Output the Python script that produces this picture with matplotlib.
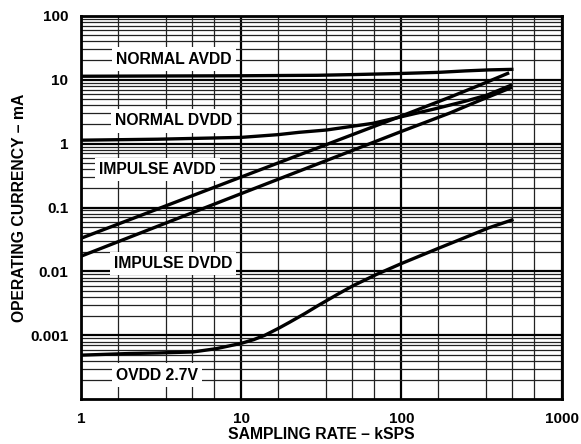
import numpy as np
import matplotlib.pyplot as plt
from matplotlib.ticker import FixedLocator, NullFormatter

plt.rcParams['font.family'] = ['Liberation Sans', 'DejaVu Sans']
plt.rcParams['font.weight'] = 'bold'

# sampling rate (kSPS) and current (mA)
normal_avdd_x = [1, 3, 10, 30, 50, 100, 170, 250, 350, 500]
normal_avdd_y = [11.3, 11.4, 11.5, 11.7, 12.0, 12.5, 13.0, 13.7, 14.2, 14.5]

normal_dvdd_x = [1, 3, 10, 17, 23, 34, 66, 100, 166, 250, 340, 490]
normal_dvdd_y = [1.13, 1.17, 1.25, 1.38, 1.5, 1.63, 2.07, 2.63, 3.55, 4.6, 5.7, 8.3]

impulse_avdd_x = [1, 10, 73, 100, 200, 300, 470]
impulse_avdd_y = [0.033, 0.30, 2.0, 2.7, 5.3, 8.0, 12.8]

impulse_dvdd_x = [1, 10, 50, 100, 200, 300, 490]
impulse_dvdd_y = [0.0173, 0.165, 0.79, 1.55, 3.0, 4.6, 7.6]

ovdd_x = [1, 2, 3, 5, 7, 10, 12, 14, 17, 20, 25, 30, 40, 50, 70, 100, 170, 250, 350, 500]
ovdd_y = [0.00049, 0.00052, 0.00053, 0.00055, 0.00062, 0.00075, 0.00086, 0.00100,
          0.00128, 0.0016, 0.0022, 0.0029, 0.0044, 0.0060, 0.0090, 0.0133,
          0.023, 0.034, 0.048, 0.065]

labels = ["NORMAL AVDD", "NORMAL DVDD", "IMPULSE AVDD", "IMPULSE DVDD", "OVDD 2.7V"]
label_x = [3.8, 3.8, 3.0, 3.75, 2.97]
label_y = [21, 2.27, 0.395, 0.0133, 0.000238]

x_ticks = [1, 10, 100, 1000]
y_ticks = [100, 10, 1, 0.1, 0.01, 0.001]
y_tick_labels = ["100", "10", "1", "0.1", "0.01", "0.001"]

fig = plt.figure(figsize=(5.81, 4.44), dpi=100)
ax = fig.add_axes([0.1394, 0.1007, 0.8274, 0.8639])

for xs, ys in [(normal_avdd_x, normal_avdd_y), (normal_dvdd_x, normal_dvdd_y),
               (impulse_avdd_x, impulse_avdd_y), (impulse_dvdd_x, impulse_dvdd_y),
               (ovdd_x, ovdd_y)]:
    ax.plot(xs, ys, color='black', lw=2.4, zorder=3, solid_capstyle='butt')

ax.set_xscale('log')
ax.set_yscale('log')
ax.set_xlim(1, 1000)
ax.set_ylim(0.0001, 100)

ax.set_xticks(x_ticks)
ax.set_xticklabels([str(t) for t in x_ticks])
ax.set_yticks(y_ticks)
ax.set_yticklabels(y_tick_labels)

# the original grid has four odd minor lines per x decade
frac = np.array([1.70, 3.39, 4.90, 6.76])
ax.xaxis.set_minor_locator(FixedLocator(np.concatenate([frac * d for d in [1, 10, 100]])))
ax.yaxis.set_minor_locator(FixedLocator([s * 10.0 ** e for e in range(-4, 2) for s in range(2, 10)]))
ax.xaxis.set_minor_formatter(NullFormatter())
ax.yaxis.set_minor_formatter(NullFormatter())

ax.grid(which='major', color='black', lw=1.6, zorder=1)
ax.grid(which='minor', color='#222222', lw=0.9, zorder=1)
ax.tick_params(which='both', length=0, labelsize=11, pad=9)
for s in ax.spines.values():
    s.set_linewidth(2)

for t, lx, ly in zip(labels, label_x, label_y):
    ax.text(lx, ly, t, ha='center', va='center', fontsize=11.3, fontweight='bold', zorder=4,
            bbox=dict(facecolor='white', edgecolor='none', pad=3))

ax.set_xlabel("SAMPLING RATE – kSPS", fontsize=11.3, fontweight='bold', labelpad=1)
ax.set_ylabel("OPERATING CURRENCY – mA", fontsize=11.3, fontweight='bold', labelpad=2)

fig.savefig("out.png", dpi=100)
